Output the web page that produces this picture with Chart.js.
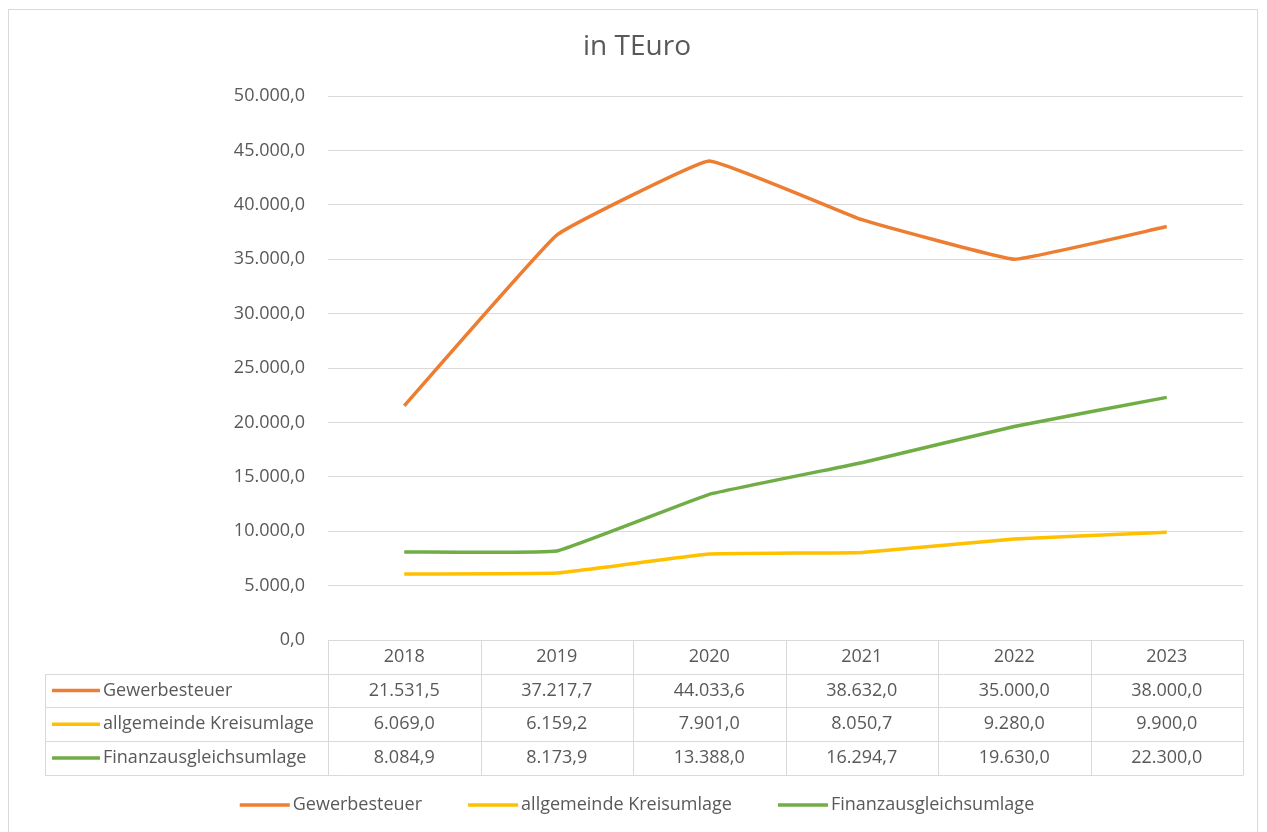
<!DOCTYPE html>
<html lang="de">
<head>
<meta charset="utf-8">
<title>in TEuro</title>
<script src="https://cdn.jsdelivr.net/npm/chart.js@4"></script>
<style>
  html, body { margin: 0; padding: 0; background: #fff; }
  #chart { display: block; }
</style>
</head>
<body>
<canvas id="chart" width="1267" height="832"></canvas>
<script>
const years = ['2018', '2019', '2020', '2021', '2022', '2023'];
const gewerbesteuer = [21531.5, 37217.7, 44033.6, 38632.0, 35000.0, 38000.0];
const kreisumlage = [6069.0, 6159.2, 7901.0, 8050.7, 9280.0, 9900.0];
const finanzausgleich = [8084.9, 8173.9, 13388.0, 16294.7, 19630.0, 22300.0];
const yTicks = [0, 5000, 10000, 15000, 20000, 25000, 30000, 35000, 40000, 45000, 50000];

const FONT = '"Open Sans", sans-serif';
const TEXT = '#595959';
const GRID = '#d9d9d9';

const fmt = new Intl.NumberFormat('de-DE', { minimumFractionDigits: 1, maximumFractionDigits: 1 });

const series = [
    { label: 'Gewerbesteuer', data: gewerbesteuer, color: '#ed7d31' },
    { label: 'allgemeinde Kreisumlage', data: kreisumlage, color: '#ffc000' },
    { label: 'Finanzausgleichsumlage', data: finanzausgleich, color: '#70ad47' }
];

// title, data table below the plot, legend and outer frame
const extras = {
    id: 'extras',
    afterDraw(chart) {
        const { ctx, chartArea, scales: { x } } = chart;
        const step = x.getPixelForValue(1) - x.getPixelForValue(0);
        const left = chartArea.left, right = chartArea.right;
        const top = chartArea.bottom;
        const rowH = 33.7;
        const labelLeft = 45;

        ctx.save();

        // frame
        ctx.strokeStyle = GRID;
        ctx.lineWidth = 1;
        ctx.strokeRect(8.5, 9.5, 1249, 840);

        // title
        ctx.fillStyle = TEXT;
        ctx.font = '28px ' + FONT;
        ctx.textAlign = 'center';
        ctx.textBaseline = 'middle';
        ctx.fillText('in TEuro', 637, 47);

        // table grid
        ctx.strokeStyle = GRID;
        ctx.beginPath();
        for (let r = 0; r <= 4; r++) {
            const y = Math.round(top + r * rowH) + 0.5;
            ctx.moveTo(r === 0 ? left : labelLeft, y);
            ctx.lineTo(right, y);
        }
        const bottom = Math.round(top + 4 * rowH) + 0.5;
        ctx.moveTo(labelLeft + 0.5, Math.round(top + rowH) + 0.5);
        ctx.lineTo(labelLeft + 0.5, bottom);
        for (let i = 0; i <= years.length; i++) {
            const xx = Math.round(left + i * step) + 0.5;
            ctx.moveTo(xx, top);
            ctx.lineTo(xx, bottom);
        }
        ctx.stroke();

        // header and values
        ctx.font = '18px ' + FONT;
        ctx.fillStyle = TEXT;
        ctx.textAlign = 'center';
        years.forEach((yr, i) => {
            const cx = x.getPixelForValue(i);
            ctx.fillText(yr, cx, top + rowH / 2);
            series.forEach((s, r) => {
                ctx.fillText(fmt.format(s.data[i]), cx, top + rowH * (r + 1.5));
            });
        });

        // row labels with line keys
        ctx.textAlign = 'left';
        series.forEach((s, r) => {
            const cy = top + rowH * (r + 1.5);
            ctx.strokeStyle = s.color;
            ctx.lineWidth = 3.5;
            ctx.beginPath();
            ctx.moveTo(52, cy);
            ctx.lineTo(100, cy);
            ctx.stroke();
            ctx.fillText(s.label, 103, cy);
        });

        // legend
        const keyW = 50, keyGap = 3, itemGap = 46;
        const widths = series.map(s => keyW + keyGap + ctx.measureText(s.label).width);
        const total = widths.reduce((a, b) => a + b, 0) + itemGap * (series.length - 1);
        let lx = 637 - total / 2;
        const ly = 805;
        series.forEach((s, i) => {
            ctx.strokeStyle = s.color;
            ctx.lineWidth = 3.5;
            ctx.beginPath();
            ctx.moveTo(lx, ly);
            ctx.lineTo(lx + keyW, ly);
            ctx.stroke();
            ctx.fillText(s.label, lx + keyW + keyGap, ly);
            lx += widths[i] + itemGap;
        });

        ctx.restore();
    }
};

new Chart(document.getElementById('chart'), {
    type: 'line',
    data: {
        labels: years,
        datasets: series.map(s => ({
            label: s.label,
            data: s.data,
            borderColor: s.color,
            backgroundColor: s.color,
            borderWidth: 3.5,
            pointRadius: 0,
            tension: 0.08,
            fill: false
        }))
    },
    options: {
        responsive: false,
        animation: false,
        layout: { padding: { top: 96, right: 24, bottom: 192, left: 0 } },
        plugins: {
            legend: { display: false },
            tooltip: { enabled: false }
        },
        scales: {
            x: {
                display: false,
                offset: true
            },
            y: {
                min: 0,
                max: 50000,
                afterBuildTicks(scale) {
                    scale.ticks = yTicks.map(v => ({ value: v }));
                },
                afterFit(scale) {
                    scale.width = 328;
                },
                border: { display: false },
                grid: { color: GRID, lineWidth: 1, drawTicks: false },
                ticks: {
                    color: TEXT,
                    font: { family: FONT, size: 18 },
                    padding: 23,
                    callback: v => fmt.format(v)
                }
            }
        }
    },
    plugins: [extras]
});
</script>
</body>
</html>
